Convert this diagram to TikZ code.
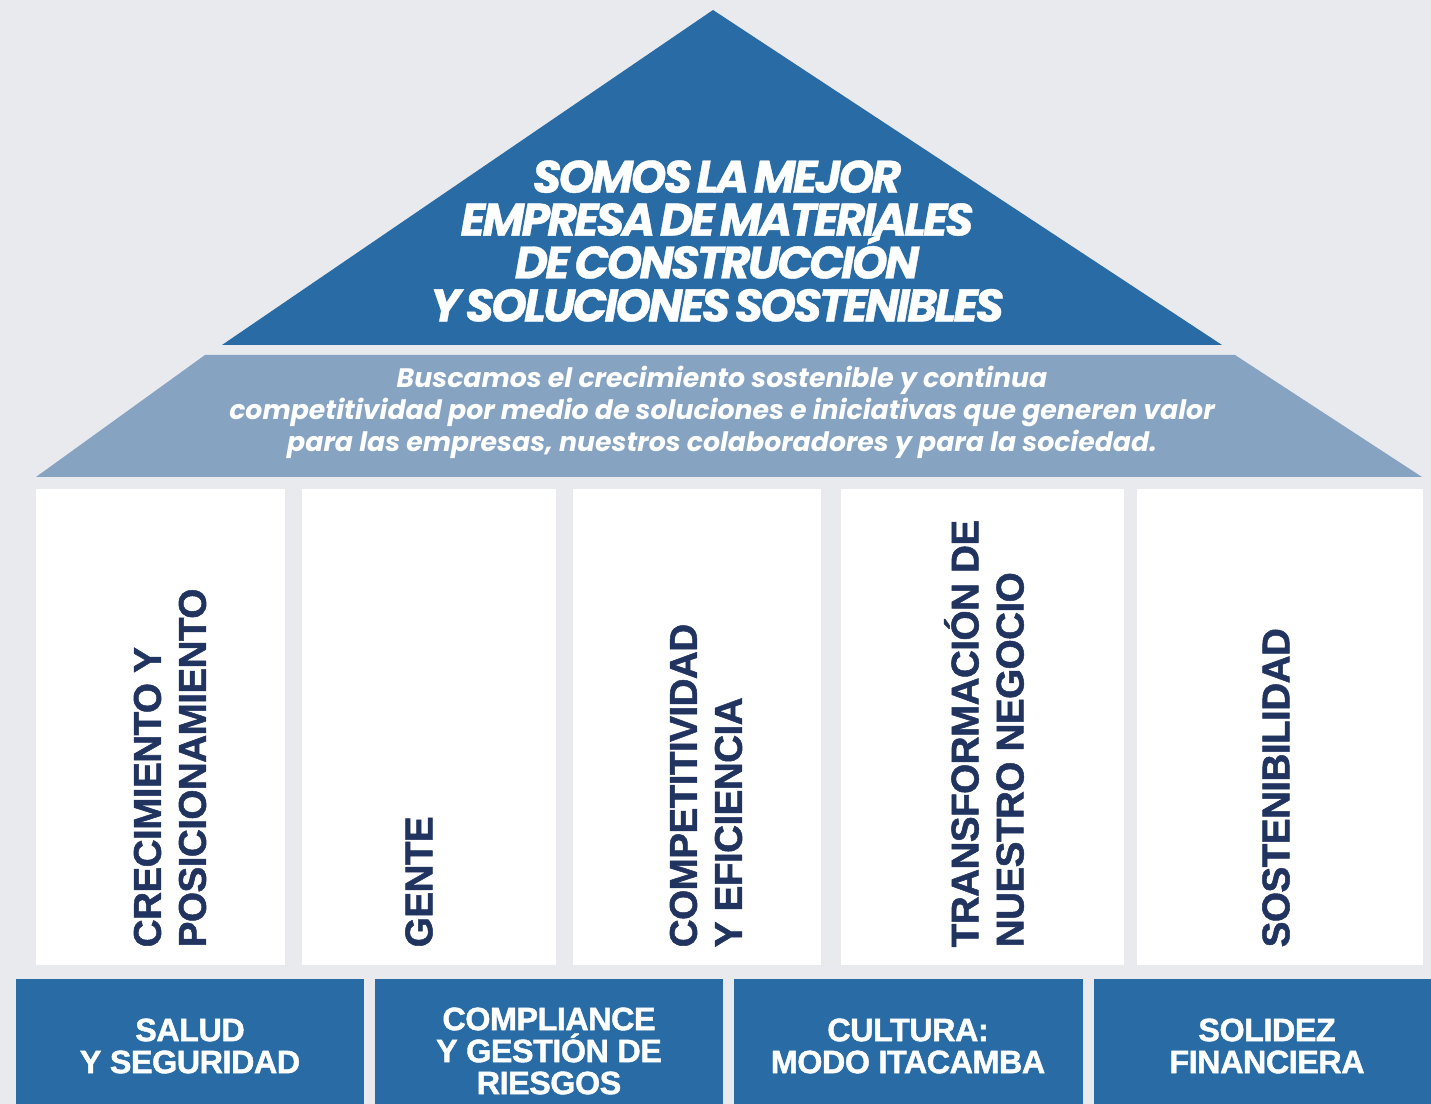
\documentclass[tikz,border=0pt]{standalone}
\usepackage{fontspec}
\setmainfont{Liberation Sans}
\newfontfamily\techofont{Poppins}[LetterSpace=-6, WordSpace=0.6, FakeBold=0.8]
\newfontfamily\lemafont{Poppins}
\newfontfamily\pilarfont{Liberation Sans Bold}[FakeBold=1.3, LetterSpace=-1.5]
\newcommand\apretado{\setlength{\lineskiplimit}{-20pt}}
\usetikzlibrary{positioning}

\definecolor{fondo}{HTML}{E9EAEE}
\definecolor{azul}{HTML}{286BA5}
\definecolor{azulclaro}{HTML}{87A3C2}
\definecolor{marino}{HTML}{21335F}

\begin{document}
\begin{tikzpicture}[x=0.01cm, y=-0.01cm,
    pilar/.style={fill=white},
    base/.style={fill=azul},
    pilartexto/.style={rotate=90, anchor=west, align=left, inner sep=0pt, text=marino,
      font=\fontsize{11}{12.8}\selectfont\pilarfont},
    basetexto/.style={align=center, inner sep=0pt, text=white,
      font=\fontsize{9.2}{9.1}\selectfont\apretado\pilarfont}]
  % Fondo
  \fill[fondo] (0,0) rectangle (1431,1104);
  \useasboundingbox (0,0) rectangle (1431,1104);

  % Techo
  \fill[azul] (713,10) -- (1222,345) -- (222,345) -- cycle;
  \fill[azulclaro] (205,355) -- (1235,355) -- (1422,477) -- (36,477) -- cycle;
  \node[align=center, text=white, inner sep=0pt,
    font=\fontsize{12.95}{12.2}\selectfont\apretado\techofont\bfseries\itshape] (mision) at (717,241)
    {SOMOS LA MEJOR\\EMPRESA DE MATERIALES\\DE CONSTRUCCIÓN\\Y SOLUCIONES SOSTENIBLES};
  \node[align=center, text=white, inner sep=0pt,
    font=\fontsize{7.6}{9.1}\selectfont\lemafont\bfseries\itshape] (lema) at (722,412)
    {Buscamos el crecimiento sostenible y continua\\competitividad por medio de soluciones e iniciativas que generen valor\\para las empresas, nuestros colaboradores y para la sociedad.};

  % Pilares
  \fill[pilar] (36,489) rectangle (285,965);
  \fill[pilar] (302,489) rectangle (556,965);
  \fill[pilar] (573,489) rectangle (821,965);
  \fill[pilar] (841,489) rectangle (1124,965);
  \fill[pilar] (1137,489) rectangle (1423,965);
  \node[pilartexto] (crecimiento) at (170,948) {CRECIMIENTO Y\\POSICIONAMIENTO};
  \node[pilartexto] (gente) at (419,948) {GENTE};
  \node[pilartexto] (competitividad) at (706,948) {COMPETITIVIDAD\\Y EFICIENCIA};
  \node[pilartexto] (transformacion) at (984,948) {TRANSFORMACIÓN DE\\NUESTRO NEGOCIO};
  \node[pilartexto] (sostenibilidad) at (1276,948) {SOSTENIBILIDAD};

  % Base
  \fill[base] (16,979) rectangle (364,1104);
  \fill[base] (375,979) rectangle (723,1104);
  \fill[base] (734,979) rectangle (1083,1104);
  \fill[base] (1094,979) rectangle (1431,1104);
  \node[basetexto] (salud) at (190,1046) {SALUD\\Y SEGURIDAD};
  \node[basetexto] (compliance) at (549,1051) {COMPLIANCE\\Y GESTIÓN DE\\RIESGOS};
  \node[basetexto] (cultura) at (908,1046) {CULTURA:\\MODO ITACAMBA};
  \node[basetexto] (solidez) at (1267,1046) {SOLIDEZ\\FINANCIERA};
\end{tikzpicture}
\end{document}
